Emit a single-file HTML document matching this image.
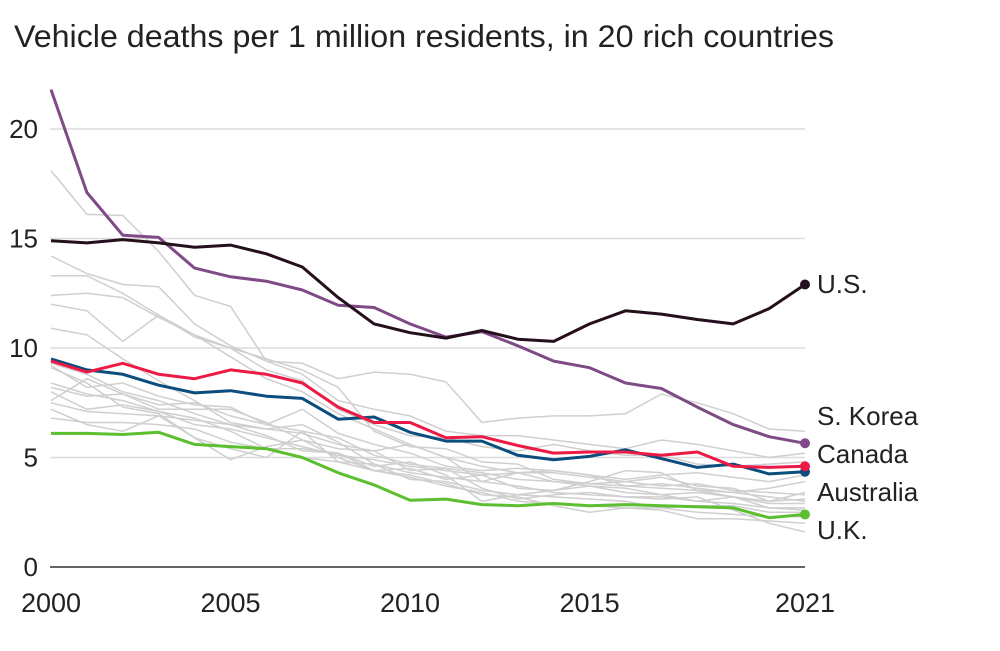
<!DOCTYPE html>
<html><head><meta charset="utf-8"><style>
html,body{margin:0;padding:0;background:#fff;}
svg text{font-family:"Liberation Sans",sans-serif;fill:#222;}
</style></head><body>
<svg id="chart" width="1000" height="646" viewBox="0 0 1000 646" xmlns="http://www.w3.org/2000/svg">
<text x="14" y="47" font-size="31.5" textLength="820" lengthAdjust="spacingAndGlyphs" fill="#333">Vehicle deaths per 1 million residents, in 20 rich countries</text>
<g id="grid"></g><g id="gray"></g><g id="main"></g><g id="labels"></g>
</svg>
<script>
const years = [2000,2001,2002,2003,2004,2005,2006,2007,2008,2009,2010,2011,2012,2013,2014,2015,2016,2017,2018,2019,2020,2021];
const yTicks = [0,5,10,15,20];
const xTickLabels = [2000,2005,2010,2015,2021];
const usValues = [14.9,14.8,14.95,14.8,14.6,14.7,14.3,13.7,12.3,11.1,10.7,10.45,10.8,10.4,10.3,11.1,11.7,11.55,11.3,11.1,11.8,12.9];
const koreaValues = [21.8,17.1,15.15,15.05,13.65,13.25,13.05,12.65,11.95,11.85,11.1,10.5,10.75,10.1,9.4,9.1,8.4,8.15,7.3,6.5,5.95,5.65];
const canadaValues = [9.4,8.9,9.3,8.8,8.6,9.0,8.8,8.4,7.3,6.6,6.6,5.9,5.95,5.55,5.2,5.25,5.25,5.1,5.25,4.6,4.55,4.6];
const australiaValues = [9.5,9.0,8.8,8.3,7.95,8.05,7.8,7.7,6.75,6.85,6.15,5.75,5.75,5.1,4.9,5.05,5.35,4.95,4.55,4.7,4.25,4.35];
const ukValues = [6.1,6.1,6.05,6.15,5.6,5.5,5.4,5.0,4.3,3.75,3.05,3.1,2.85,2.8,2.9,2.8,2.85,2.8,2.75,2.7,2.25,2.4];
const gray1 = [18.1,16.1,16.05,14.4,12.4,11.9,9.4,9.3,8.6,8.9,8.8,8.45,6.6,6.8,6.9,6.9,7.0,7.9,7.5,7.0,6.3,6.2];
const gray2 = [14.2,13.4,12.9,12.8,11.1,10.1,9.4,8.8,7.6,7.2,6.9,6.2,6.0,6.0,5.8,5.6,5.4,5.8,5.6,5.3,5.0,5.2];
const gray3 = [13.3,13.3,12.5,11.5,10.5,10.0,9.0,8.5,7.2,6.5,6.0,5.9,5.5,5.3,5.6,5.3,5.1,5.1,4.7,4.6,4.7,4.8];
const gray4 = [12.4,12.5,12.3,11.4,10.6,9.6,8.6,8.0,7.0,6.3,5.6,5.0,4.6,4.3,4.4,4.2,4.0,4.2,4.3,4.1,3.9,4.2];
const gray5 = [12.0,11.7,10.3,11.5,10.6,10.0,9.5,9.0,8.2,6.2,5.5,5.4,4.8,4.7,4.0,3.8,3.9,3.7,3.8,3.5,3.4,3.3];
const gray6 = [10.9,10.6,9.5,8.5,7.6,6.6,6.3,6.1,5.6,5.3,5.6,5.0,3.9,4.3,4.3,4.1,3.9,4.1,3.7,3.6,3.0,3.4];
const gray7 = [9.2,8.2,8.4,7.8,7.4,7.3,6.5,6.2,5.9,5.1,4.7,4.5,4.3,4.0,3.9,3.7,3.6,3.3,3.0,3.2,2.9,2.9];
const gray8 = [8.2,7.8,7.9,7.4,7.5,6.9,6.5,7.2,6.1,5.6,5.2,4.6,4.4,4.5,4.4,4.2,3.7,3.8,3.6,3.4,3.2,3.0];
const gray9 = [7.6,8.6,7.9,7.2,7.2,7.2,6.6,5.8,5.0,4.4,4.5,4.0,4.2,3.6,3.5,3.7,3.4,3.3,3.4,3.2,2.7,2.7];
const gray10 = [9.1,8.4,7.3,7.0,5.9,5.4,5.0,6.2,4.8,4.7,4.3,4.1,3.9,3.7,3.4,3.3,3.2,3.2,3.0,2.9,2.7,2.6];
const gray11 = [7.5,7.1,7.0,6.9,6.7,6.5,6.3,6.5,5.7,4.7,4.0,3.9,3.5,3.3,3.2,3.1,3.0,2.7,2.8,2.8,2.5,2.5];
const gray12 = [6.8,6.6,6.6,6.5,6.3,5.7,5.4,5.4,5.2,4.4,4.2,3.8,3.3,3.2,2.8,2.5,2.7,2.6,2.2,2.2,2.1,2.0];
const gray13 = [7.2,6.5,6.2,6.9,5.9,4.9,5.5,5.8,5.4,5.3,4.4,4.5,3.6,3.1,3.3,3.4,3.2,3.1,3.2,2.6,2.0,1.6];
const gray14 = [8.0,7.2,7.4,7.1,6.5,6.3,5.9,5.5,5.1,4.9,4.6,4.4,4.2,4.3,3.9,3.8,3.7,3.6,3.5,3.2,3.0,3.1];
const gray15 = [9.3,8.8,8.0,7.6,7.0,6.5,6.0,5.3,5.2,4.6,4.8,4.2,3.0,3.3,3.5,3.9,4.4,4.3,3.5,3.4,3.6,3.9];
const gray16 = [8.4,7.9,7.6,7.1,6.8,6.2,5.4,5.0,4.8,4.4,4.1,3.7,3.4,3.0,2.9,2.8,2.7,2.7,2.5,2.4,2.3,2.3];
const grays = [gray1,gray2,gray3,gray4,gray5,gray6,gray7,gray8,gray9,gray10,gray11,gray12,gray13,gray14,gray15,gray16];

const NS="http://www.w3.org/2000/svg";
const x0=51,x1=805,y0=567,yTop=129;
const xs=y=>x0+(y-2000)*(x1-x0)/21;
const ys=v=>y0-v*(y0-yTop)/20;
function mk(tag,parent){const e=document.createElementNS(NS,tag);parent.appendChild(e);return e;}
const grid=document.getElementById('grid');
yTicks.forEach(t=>{
  if(t>0){const l=mk('line',grid);
    
    
    l.setAttribute('x1',50);l.setAttribute('x2',805);l.setAttribute('y1',ys(t));l.setAttribute('y2',ys(t));
    l.setAttribute('stroke','#dcdcdc');l.setAttribute('stroke-width','1.5');}
  const tx=mk('text',grid);
  
  
  tx.setAttribute('x',38);tx.setAttribute('y',ys(t)+9);tx.setAttribute('text-anchor','end');tx.setAttribute('font-size','26');
  tx.textContent=t;
});
const ax=mk('line',grid);


ax.setAttribute('x1',50);ax.setAttribute('x2',805);ax.setAttribute('y1',y0);ax.setAttribute('y2',y0);ax.setAttribute('stroke','#333');ax.setAttribute('stroke-width','1.5');
xTickLabels.forEach(t=>{
  const tx=mk('text',grid);
  
  
  tx.setAttribute('x',xs(t));tx.setAttribute('y',612);tx.setAttribute('text-anchor','middle');tx.setAttribute('font-size','27');
  tx.textContent=t;
});
function path(vals){return vals.map((v,i)=>(i?'L':'M')+xs(years[i]).toFixed(1)+','+ys(v).toFixed(1)).join('');}
const gg=document.getElementById('gray');
grays.forEach(g=>{const p=mk('path',gg);
  
  
  p.setAttribute('d',path(g));p.setAttribute('fill','none');p.setAttribute('stroke','#cfcfcf');p.setAttribute('stroke-width','1.5');});
const mains=[[ukValues,'#5bbf2f','uk'],[australiaValues,'#0b4d7c','australia'],[canadaValues,'#ec1a45','canada'],[koreaValues,'#7f4a86','south-korea'],[usValues,'#240f1c','us']];
const mg=document.getElementById('main');
mains.forEach(([v,c,n])=>{const p=mk('path',mg);
  
  
  p.setAttribute('d',path(v));p.setAttribute('fill','none');p.setAttribute('stroke',c);p.setAttribute('stroke-width','3');p.setAttribute('stroke-linejoin','round');
  const d=mk('circle',mg);
  
  
  d.setAttribute('cx',xs(2021));d.setAttribute('cy',ys(v[v.length-1]));d.setAttribute('r',5);d.setAttribute('fill',c);});
const labs=[['U.S.',293],['S. Korea',425],['Canada',463],['Australia',501],['U.K.',539]];
const lg=document.getElementById('labels');
labs.forEach(([t,y])=>{const tx=mk('text',lg);
  
  
  tx.setAttribute('x',817);tx.setAttribute('y',y);tx.setAttribute('font-size','26');tx.setAttribute('fill','#333');tx.textContent=t;});
</script>
</body></html>
